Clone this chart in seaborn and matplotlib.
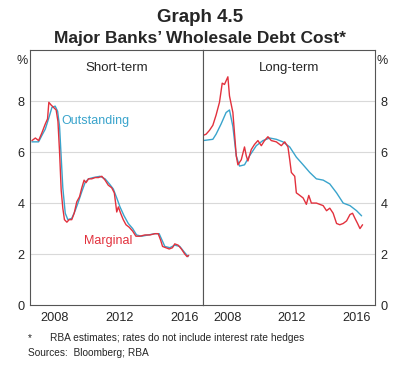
import pandas as pd
import matplotlib
matplotlib.use("Agg")
import matplotlib.pyplot as plt
import seaborn as sns

sns.set_style("white")
plt.rcParams['font.family'] = ['Liberation Sans', 'DejaVu Sans']

# short-term, outstanding
st_out_date = [2007.12, 2007.53, 2007.73, 2007.94, 2008.14, 2008.35, 2008.55, 2008.70, 2008.82,
               2008.92, 2009.02, 2009.17, 2009.33, 2009.57, 2009.78, 2009.98, 2010.19, 2010.39,
               2010.60, 2010.90, 2011.31, 2011.62, 2011.89, 2012.13, 2012.34, 2012.54, 2012.79,
               2013.05, 2013.32, 2013.56, 2013.87, 2014.28, 2014.69, 2014.95, 2015.16, 2015.30,
               2015.61, 2015.91, 2016.22, 2016.47, 2016.73]
st_out_val = [6.4, 6.4, 6.65, 6.9, 7.3, 7.75, 7.8, 7.6, 7.0,
              5.8, 4.6, 3.6, 3.35, 3.4, 3.7, 4.05, 4.45, 4.8,
              4.95, 5.0, 5.05, 4.95, 4.75, 4.55, 4.2, 3.85, 3.5,
              3.2, 3.0, 2.75, 2.7, 2.75, 2.8, 2.8, 2.5, 2.3,
              2.25, 2.35, 2.3, 2.1, 1.9]

# short-term, marginal
st_mar_date = [2007.12, 2007.33, 2007.53, 2007.73, 2007.94, 2008.08, 2008.16, 2008.29, 2008.45,
               2008.61, 2008.72, 2008.82, 2008.92, 2009.02, 2009.12, 2009.27, 2009.41, 2009.57,
               2009.72, 2009.88, 2010.05, 2010.19, 2010.33, 2010.45, 2010.60, 2010.80, 2011.01,
               2011.21, 2011.42, 2011.62, 2011.82, 2012.03, 2012.19, 2012.34, 2012.44, 2012.58,
               2012.74, 2012.91, 2013.11, 2013.32, 2013.52, 2013.77, 2014.07, 2014.38, 2014.69,
               2014.89, 2015.04, 2015.16, 2015.36, 2015.57, 2015.77, 2015.91, 2016.12, 2016.32,
               2016.53, 2016.67, 2016.77]
st_mar_val = [6.45, 6.55, 6.45, 6.75, 7.1, 7.3, 7.95, 7.85, 7.75,
              7.65, 7.2, 6.0, 4.5, 3.8, 3.35, 3.25, 3.35, 3.35,
              3.6, 4.05, 4.25, 4.6, 4.9, 4.8, 4.95, 4.95, 5.0,
              5.0, 5.05, 4.9, 4.7, 4.6, 4.4, 3.65, 3.85, 3.6,
              3.35, 3.15, 3.05, 2.9, 2.7, 2.7, 2.75, 2.75, 2.8,
              2.8, 2.55, 2.3, 2.25, 2.2, 2.25, 2.4, 2.35, 2.2,
              2.0, 1.9, 1.95]

# long-term, outstanding
lt_out_date = [2007.0, 2007.61, 2007.81, 2008.12, 2008.43, 2008.64, 2008.85, 2009.06, 2009.26,
               2009.57, 2009.88, 2010.30, 2010.71, 2011.13, 2011.54, 2011.95, 2012.37, 2012.78,
               2013.20, 2013.61, 2014.02, 2014.44, 2014.85, 2015.27, 2015.68, 2016.10, 2016.51,
               2016.82]
lt_out_val = [6.45, 6.5, 6.7, 7.1, 7.55, 7.65, 7.0, 5.85, 5.45,
              5.5, 5.85, 6.25, 6.45, 6.55, 6.5, 6.4, 6.2, 5.8,
              5.5, 5.2, 4.95, 4.9, 4.75, 4.4, 4.0, 3.9, 3.7,
              3.5]

# long-term, marginal
lt_mar_date = [2007.0, 2007.19, 2007.40, 2007.61, 2007.81, 2008.02, 2008.19, 2008.33, 2008.54,
               2008.64, 2008.85, 2009.06, 2009.16, 2009.37, 2009.57, 2009.68, 2009.78, 2009.99,
               2010.19, 2010.40, 2010.61, 2010.81, 2011.02, 2011.23, 2011.54, 2011.85, 2012.06,
               2012.26, 2012.37, 2012.47, 2012.68, 2012.78, 2012.89, 2013.20, 2013.40, 2013.55,
               2013.71, 2014.02, 2014.44, 2014.65, 2014.85, 2015.06, 2015.27, 2015.47, 2015.68,
               2015.89, 2016.10, 2016.26, 2016.41, 2016.57, 2016.72, 2016.88]
lt_mar_val = [6.65, 6.7, 6.85, 7.05, 7.45, 7.95, 8.7, 8.65, 8.95,
              8.2, 7.55, 5.85, 5.5, 5.7, 6.2, 5.85, 5.65, 6.1,
              6.3, 6.45, 6.25, 6.45, 6.6, 6.45, 6.4, 6.25, 6.4,
              6.2, 5.7, 5.2, 5.05, 4.4, 4.35, 4.2, 3.95, 4.3,
              4.0, 4.0, 3.9, 3.7, 3.8, 3.6, 3.2, 3.15, 3.2,
              3.3, 3.55, 3.6, 3.4, 3.2, 3.0, 3.15]

year_labels = ["2008", "2012", "2016"]
blue = "#3aa4cc"
red = "#e2313d"
frame = "#555555"


def series_df(d1, v1, d2, v2):
    a = pd.DataFrame({"date": d1, "rate": v1, "series": "Outstanding"})
    b = pd.DataFrame({"date": d2, "rate": v2, "series": "Marginal"})
    return pd.concat([a, b], ignore_index=True)


st = series_df(st_out_date, st_out_val, st_mar_date, st_mar_val)
lt = series_df(lt_out_date, lt_out_val, lt_mar_date, lt_mar_val)

fig = plt.figure(figsize=(4.0, 3.79), dpi=100)
ax1 = fig.add_axes([0.075, 0.195, 0.4325, 0.673])
ax2 = fig.add_axes([0.5075, 0.195, 0.43, 0.673])

pal = {"Outstanding": blue, "Marginal": red}
for ax, df in [(ax1, st), (ax2, lt)]:
    sns.lineplot(data=df, x="date", y="rate", hue="series", palette=pal,
                 hue_order=["Outstanding", "Marginal"], linewidth=1.0,
                 legend=False, ax=ax, sort=False)
    ax.set_xlim(2007.0, 2017.65)
    ax.set_ylim(0, 10)
    for g in [2, 4, 6, 8]:
        ax.axhline(g, color="#d9d9d9", linewidth=0.8, zorder=0)
    ax.set_xticks(range(2008, 2018))
    ax.set_xticklabels([])
    ax.set_xticks([2008.5, 2012.5, 2016.5], minor=True)
    ax.set_xticklabels(year_labels, minor=True, fontsize=9.2)
    ax.tick_params(axis="x", which="major", direction="in", length=3.5,
                   color=frame, width=0.8)
    ax.tick_params(axis="x", which="minor", length=0, pad=5)
    ax.set_yticks([0, 2, 4, 6, 8])
    ax.tick_params(axis="y", length=0, labelsize=9.2, pad=4)
    ax.set_xlabel("")
    ax.set_ylabel("")
    for s in ax.spines.values():
        s.set_color(frame)
        s.set_linewidth(0.8)

ax2.yaxis.tick_right()
ax2.tick_params(axis="y", length=0, labelsize=9.2, pad=4)

ax1.set_title("Short-term", fontsize=9.5, pad=-15, y=1.0)
ax2.set_title("Long-term", fontsize=9.5, pad=-15, y=1.0)

ax1.text(2008.95, 7.2, "Outstanding", color=blue, fontsize=9, va="center")
ax1.text(2010.3, 2.5, "Marginal", color=red, fontsize=9, va="center")

fig.text(0.5, 0.955, "Graph 4.5", ha="center", va="center", fontsize=13.5, fontweight="bold")
fig.text(0.5, 0.898, "Major Banks\u2019 Wholesale Debt Cost*", ha="center", va="center",
         fontsize=12.5, fontweight="bold")
fig.text(0.055, 0.84, "%", ha="center", va="center", fontsize=9)
fig.text(0.955, 0.84, "%", ha="center", va="center", fontsize=9)

fig.text(0.07, 0.108, "*", ha="left", va="center", fontsize=7.3)
fig.text(0.125, 0.108, "RBA estimates; rates do not include interest rate hedges",
         ha="left", va="center", fontsize=7.3)
fig.text(0.07, 0.068, "Sources:  Bloomberg; RBA", ha="left", va="center", fontsize=7.3)

fig.savefig("out.png", dpi=100, facecolor="white")
